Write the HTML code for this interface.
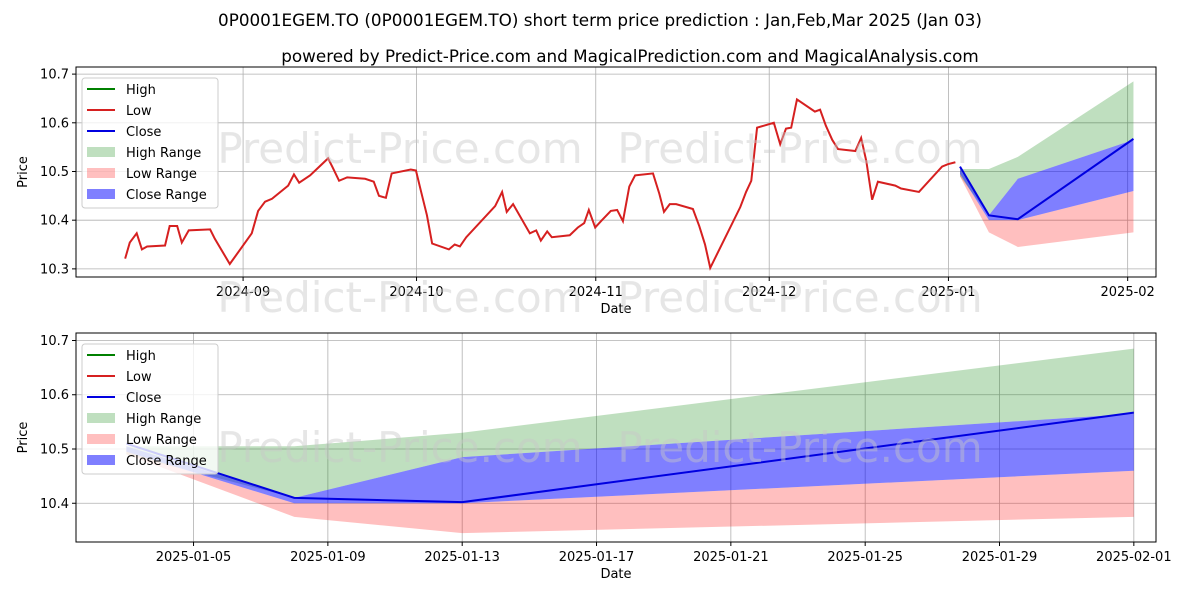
<!DOCTYPE html>
<html><head><meta charset="utf-8"><style>
body{margin:0;background:#fff;font-family:"Liberation Sans","DejaVu Sans",sans-serif}
svg text{font-family:"DejaVu Sans","Liberation Sans",sans-serif}
</style></head><body>
<svg id="c" width="1200" height="600" viewBox="0 0 1200 600" xmlns="http://www.w3.org/2000/svg">
<rect width="1200" height="600" fill="#fff"/>
<text x="600" y="26" text-anchor="middle" font-size="16.8">0P0001EGEM.TO (0P0001EGEM.TO) short term price prediction : Jan,Feb,Mar 2025 (Jan 03)</text>
<text x="630" y="62" text-anchor="middle" font-size="16.8">powered by Predict-Price.com and MagicalPrediction.com and MagicalAnalysis.com</text>
</svg>
<script>
// days since 2024-08-01
const histDays=[10.6,11.4,12.6,13.5,14.4,17.5,18.3,19.6,20.4,21.6,25.3,26.1,28.7,32.5,33.6,34.8,36.0,38.8,39.8,40.7,42.6,45.7,46.5,47.6,49.0,52.1,53.6,54.5,55.7,56.7,60.0,60.9,61.8,62.8,63.7,66.6,67.6,68.5,69.6,74.6,75.8,76.6,77.7,80.6,81.7,82.5,83.6,84.4,87.5,88.9,90.0,90.8,91.9,92.9,94.6,95.7,96.7,97.8,98.8,101.9,103.0,103.8,104.8,105.9,108.8,109.9,110.9,111.8,117.0,118.0,118.9,119.9,122.8,123.9,124.9,125.8,126.8,129.9,130.8,131.8,132.9,133.9,136.9,137.9,138.8,139.8,140.8,143.8,144.8,147.9,151.9,152.9,154.2];
const histLow=[10.321,10.354,10.373,10.340,10.346,10.348,10.388,10.388,10.354,10.379,10.381,10.362,10.310,10.373,10.419,10.438,10.444,10.471,10.494,10.477,10.492,10.527,10.508,10.481,10.488,10.485,10.479,10.450,10.446,10.496,10.504,10.502,10.458,10.410,10.352,10.340,10.350,10.346,10.365,10.429,10.458,10.417,10.433,10.373,10.379,10.358,10.377,10.365,10.369,10.385,10.394,10.421,10.385,10.398,10.419,10.421,10.398,10.469,10.492,10.496,10.454,10.417,10.433,10.433,10.423,10.388,10.350,10.302,10.427,10.458,10.481,10.590,10.600,10.556,10.588,10.590,10.648,10.623,10.627,10.594,10.565,10.546,10.542,10.569,10.521,10.442,10.479,10.471,10.465,10.458,10.510,10.515,10.519];
const fcDays=[155,160,165,185];
const fcClose=[10.510,10.410,10.402,10.567];
const highUpper=[10.505,10.505,10.530,10.685];
const highLower=[10.49,10.41,10.485,10.565];
const closeUpper=[10.505,10.41,10.485,10.565];
const closeLower=[10.495,10.40,10.40,10.46];
const lowUpper=[10.495,10.40,10.40,10.46];
const lowLower=[10.49,10.375,10.345,10.375];
const topTicksY=[10.3,10.4,10.5,10.6,10.7];
const topTickDays=[31,61,92,122,153,184];
const topTickLabels=["2024-09","2024-10","2024-11","2024-12","2025-01","2025-02"];
const botTickDays=[157,161,165,169,173,177,181,185];
const botTickLabels=["2025-01-05","2025-01-09","2025-01-13","2025-01-17","2025-01-21","2025-01-25","2025-01-29","2025-02-01"];

const svg=document.getElementById('c');
const NS='http://www.w3.org/2000/svg';
function mk(tag,attrs,parent){const e=document.createElementNS(NS,tag);for(const k in attrs)e.setAttribute(k,attrs[k]);(parent||svg).appendChild(e);return e;}

function chart(box,d0,d1,v0,v1,showHist,tickDays,tickLabels,name){
  const g=mk('g',{});
  
  
  const X=d=>box.x+(d-d0)/(d1-d0)*box.w;
  const Y=v=>box.y+box.h-(v-v0)/(v1-v0)*box.h;
  topTicksY.forEach(v=>{
    if(v<v0||v>v1)return;
    const y=Y(v);
    mk('line',{x1:box.x,x2:box.x+box.w,y1:y,y2:y,stroke:'#b0b0b0','stroke-width':0.8},g);
    mk('line',{x1:box.x-4,x2:box.x,y1:y,y2:y,stroke:'#000'},g);
    const t=mk('text',{x:box.x-7,y:y+4.5,'text-anchor':'end','font-size':13},g);
    
    
    t.textContent=v.toFixed(1);
  });
  tickDays.forEach((d,i)=>{
    const x=X(d);
    mk('line',{x1:x,x2:x,y1:box.y,y2:box.y+box.h,stroke:'#b0b0b0','stroke-width':0.8},g);
    mk('line',{x1:x,x2:x,y1:box.y+box.h,y2:box.y+box.h+4,stroke:'#000'},g);
    const t=mk('text',{x:x,y:box.y+box.h+19,'text-anchor':'middle','font-size':13},g);
    
    
    t.textContent=tickLabels[i];
  });
  const band=(up,lo,col,n)=>{
    let p='M'+fcDays.map((d,i)=>X(d)+','+Y(up[i])).join('L');
    p+='L'+fcDays.map((d,i)=>X(d)+','+Y(lo[i])).reverse().join('L')+'Z';
    const e=mk('path',{d:p,fill:col},g);
    
    
  };
  band(highUpper,highLower,'rgba(0,128,0,0.25)','high-range-band');
  band(lowUpper,lowLower,'rgba(255,0,0,0.25)','low-range-band');
  band(closeUpper,closeLower,'rgba(0,0,255,0.5)','close-range-band');
  if(showHist){
    const l=mk('polyline',{points:histDays.map((d,i)=>X(d)+','+Y(histLow[i])).join(' '),fill:'none',stroke:'#d62020','stroke-width':2},g);
    
    
  }
  const c=mk('polyline',{points:fcDays.map((d,i)=>X(d)+','+Y(fcClose[i])).join(' '),fill:'none',stroke:'#0000e0','stroke-width':2},g);
  
  
  mk('rect',{x:box.x,y:box.y,width:box.w,height:box.h,fill:'none',stroke:'#000','stroke-width':1},g);
  const xl=mk('text',{x:box.x+box.w/2,y:box.y+box.h+36,'text-anchor':'middle','font-size':13},g);
  
  
  xl.textContent='Date';
  const yl=mk('text',{x:0,y:0,'text-anchor':'middle','font-size':13,transform:`translate(27,${box.y+box.h/2}) rotate(-90)`},g);
  
  
  yl.textContent='Price';
  const lg=mk('g',{},g);
  
  
  mk('rect',{x:box.x+6,y:box.y+11,width:136,height:130,rx:3,fill:'rgba(255,255,255,0.8)',stroke:'#ccc'},lg);
  const items=[['High','line','#008000'],['Low','line','#d62020'],['Close','line','#0000e0'],['High Range','box','rgba(0,128,0,0.25)'],['Low Range','box','rgba(255,0,0,0.25)'],['Close Range','box','rgba(0,0,255,0.5)']];
  items.forEach((it,i)=>{
    const yy=box.y+22+i*21;
    if(it[1]==='line')mk('line',{x1:box.x+11,x2:box.x+39,y1:yy,y2:yy,stroke:it[2],'stroke-width':2},lg);
    else mk('rect',{x:box.x+11,y:yy-5,width:28,height:10,fill:it[2]},lg);
    const t=mk('text',{x:box.x+50,y:yy+5,'font-size':13},lg);
    
    
    t.textContent=it[0];
  });
}
chart({x:76,y:67,w:1080,h:210},2.1,188.9,10.2833,10.7146,true,topTickDays,topTickLabels,'top-chart');
chart({x:76,y:333,w:1080,h:209},153.5,185.66,10.3286,10.7138,false,botTickDays,botTickLabels,'bottom-chart');
// watermarks
[163,312,462].forEach(y=>{
  [400,800].forEach(x=>{
    const t=mk('text',{x:x,y:y,'text-anchor':'middle','font-size':42,fill:'rgba(200,200,200,0.45)'});
    
    
    t.textContent='Predict-Price.com';
  });
});
</script>
</body></html>
